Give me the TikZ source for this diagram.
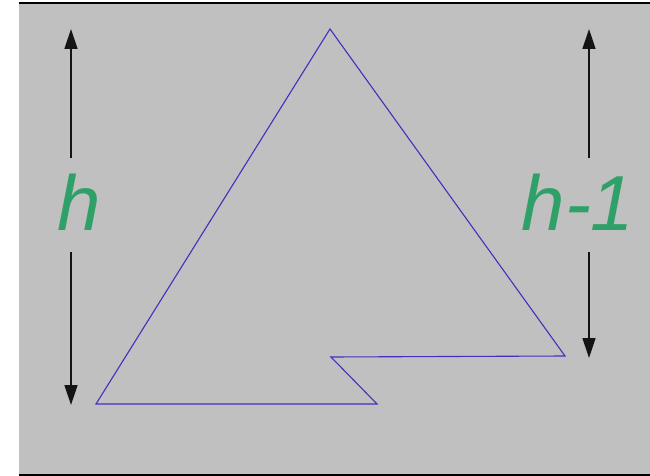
\documentclass[tikz,border=0pt]{standalone}
\usepackage{fontspec}
\setmainfont{Liberation Sans}
\usetikzlibrary{arrows.meta}
\definecolor{bg}{RGB}{192,192,192}
\definecolor{lbl}{RGB}{46,160,104}
\definecolor{poly}{RGB}{64,48,192}
\tikzset{
  x=1pt, y=-1pt,
  dimarrow/.style={draw={rgb,255:red,20;green,20;blue,20}, line width=1.4pt, -{Triangle[width=13pt,length=20pt]}},
  dimlabel/.style={text=lbl, font=\fontsize{78}{80}\selectfont\itshape, inner sep=0pt},
  polyline/.style={draw=poly, line width=1.1pt, line join=miter}
}
\begin{document}
\begin{tikzpicture}
\useasboundingbox (0,0) rectangle (650,476);
\fill[bg] (19,3) rectangle (650,475);
\draw[black, line width=2pt] (19,3) -- (650,3);
\draw[black, line width=2pt] (19,475) -- (650,475);
% polygon
\coordinate (p1) at (96,404);
\coordinate (p2) at (330,29);
\coordinate (p3) at (565,356);
\coordinate (p4) at (331,357);
\coordinate (p5) at (377,404);
\draw[polyline] (p1) -- (p2) -- (p3) -- (p4) -- (p5) -- cycle;
% left dimension
\node[dimlabel] (hl) at (79,202) {h};
\coordinate (lt) at (71,29);
\coordinate (lb) at (71,405);
\coordinate (lts) at (71,158);
\coordinate (lbs) at (71,252);
\draw[dimarrow] (lts) -- (lt);
\draw[dimarrow] (lbs) -- (lb);
% right dimension
\node[dimlabel] (hr) at (578,202) {h-1};
\coordinate (rt) at (589,29);
\coordinate (rb) at (589,358);
\coordinate (rts) at (589,158);
\coordinate (rbs) at (589,252);
\draw[dimarrow] (rts) -- (rt);
\draw[dimarrow] (rbs) -- (rb);
\end{tikzpicture}
\end{document}
